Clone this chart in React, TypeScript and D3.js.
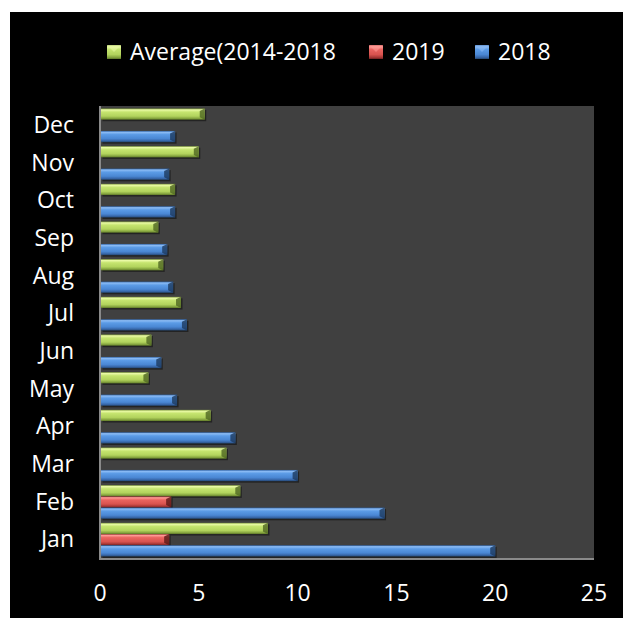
import React from "react";
import * as d3 from "d3";

const months = ["Jan", "Feb", "Mar", "Apr", "May", "Jun", "Jul", "Aug", "Sep", "Oct", "Nov", "Dec"];
const values2018 = [20, 14.4, 10, 6.85, 3.9, 3.1, 4.4, 3.7, 3.4, 3.8, 3.5, 3.8];
const values2019: (number | null)[] = [3.5, 3.6, null, null, null, null, null, null, null, null, null, null];
const valuesAvg = [8.5, 7.1, 6.4, 5.6, 2.45, 2.6, 4.1, 3.2, 2.95, 3.8, 5.0, 5.3];
const xTicks = [0, 5, 10, 15, 20, 25];
const seriesNames = ["Average(2014-2018", "2019", "2018"];

const W = 623;
const H = 618;
const FONT = "'Open Sans', sans-serif";

type Series = { key: string; name: string; values: (number | null)[]; stops: string[]; edge: string };

const series: Series[] = [
  { key: "avg", name: seriesNames[0], values: valuesAvg, stops: ["#7f9a3e", "#eafaa6", "#c5e46f", "#b2d35d", "#86a53f", "#5c7428"], edge: "#4f6622" },
  { key: "y2019", name: seriesNames[1], values: values2019, stops: ["#a03c3a", "#ff9a96", "#ea6460", "#d9534f", "#a83836", "#6e1f1e"], edge: "#5a1817" },
  { key: "y2018", name: seriesNames[2], values: values2018, stops: ["#2c5ea0", "#8cbcf5", "#5b9be6", "#4a87d4", "#3766a8", "#24466f"], edge: "#1d3a5e" },
];
const legendOrder = ["avg", "y2019", "y2018"];
const offsets = ["0%", "12%", "32%", "68%", "88%", "100%"];

export default function App() {
  const left = 100, right = 594, top = 106, bottom = 558;
  const x = d3.scaleLinear().domain([0, 25]).range([left, right]);
  const y = d3.scaleBand<string>().domain(months).range([bottom, top]).padding(0);
  const bw = y.bandwidth();
  const ySub = d3.scaleBand<string>().domain(series.map((s) => s.key)).range([2.5, bw - 1.5]).padding(0);
  const bh = ySub.bandwidth();

  const legendX = [107, 369, 475];

  return (
    <svg width={W} height={H} style={{ position: "absolute", left: 0, top: 0, background: "#fff" }} fontFamily={FONT}>
      <defs>
        {series.map((s) => (
          <linearGradient key={s.key} id={`g-${s.key}`} x1="0" y1="0" x2="0" y2="1">
            {s.stops.map((c, i) => (
              <stop key={i} offset={offsets[i]} stopColor={c} />
            ))}
          </linearGradient>
        ))}
      </defs>
      <rect x={10} y={12} width={W - 10} height={H - 12} fill="#000" />
      <rect x={left} y={top} width={right - left} height={bottom - top} fill="#404040" />

      {/* bars */}
      {series.map((s) =>
        months.map((m, i) => {
          const v = s.values[i];
          if (v == null) return null;
          const y0 = (y(m) as number) + (ySub(s.key) as number);
          const x0 = x(0) + 1;
          const x1 = x(v);
          const bev = Math.min(5, (x1 - x0) / 2);
          return (
            <g key={`${s.key}-${m}`}>
              <rect x={x0 + 1.5} y={y0 + 1.5} width={x1 - x0} height={bh} fill="#000" opacity={0.45} />
              <rect x={x0} y={y0} width={x1 - x0} height={bh} fill={`url(#g-${s.key})`} />
              <polygon
                points={`${x1 - bev},${y0 + 2.5} ${x1},${y0} ${x1},${y0 + bh} ${x1 - bev},${y0 + bh - 2.5}`}
                fill={s.edge}
                opacity={0.8}
              />
            </g>
          );
        })
      )}

      {/* axes */}
      <line x1={left} y1={top} x2={left} y2={bottom + 1} stroke="#8a8a8a" strokeWidth={2} />
      <line x1={left - 1} y1={bottom + 1} x2={right} y2={bottom + 1} stroke="#8a8a8a" strokeWidth={2} />

      {xTicks.map((t) => (
        <text key={t} x={x(t)} y={601} fill="#fff" fontSize={23} textAnchor="middle">
          {t}
        </text>
      ))}
      {months.map((m) => (
        <text key={m} x={74} y={(y(m) as number) + bw / 2 + 8} fill="#fff" fontSize={23} textAnchor="end">
          {m}
        </text>
      ))}

      {/* legend */}
      {legendOrder.map((k, i) => {
        const s = series.find((d) => d.key === k)!;
        const lx = legendX[i];
        return (
          <g key={k}>
            <rect x={lx} y={45} width={14} height={14} fill={`url(#g-${k})`} />
            <polygon points={`${lx},${45} ${lx + 14},${45} ${lx + 7},${52}`} fill={s.stops[1]} opacity={0.55} />
            <text x={lx + 23} y={60} fill="#fff" fontSize={23}>
              {s.name}
            </text>
          </g>
        );
      })}
    </svg>
  );
}
